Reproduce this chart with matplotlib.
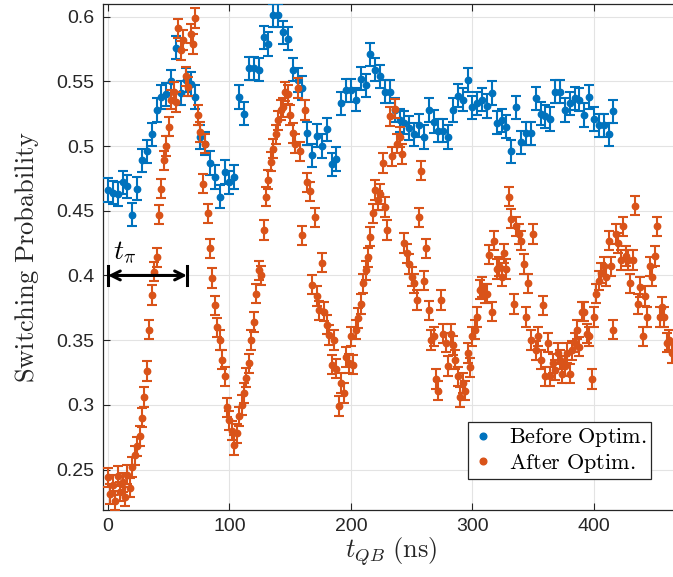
import numpy as np
import matplotlib
matplotlib.use("Agg")
import matplotlib.pyplot as plt
from matplotlib.lines import Line2D
from matplotlib.ticker import FuncFormatter

plt.rcParams["mathtext.fontset"] = "cm"
plt.rcParams["font.family"] = ["Liberation Sans", "DejaVu Sans"]

# Switching probability vs. qubit drive time, before optimisation (4 ns steps)
t_before = np.arange(0, 417, 4)
p_before = [
    0.466, 0.464, 0.463, 0.472, 0.469, 0.447, 0.467, 0.489, 0.496, 0.509,
    0.528, 0.538, 0.540, 0.550, 0.576, 0.541, 0.551, 0.548, 0.538, 0.507,
    0.502, 0.487, 0.476, 0.461, 0.480, 0.472, 0.476, 0.538, 0.525, 0.560,
    0.560, 0.559, 0.584, 0.579, 0.601, 0.601, 0.588, 0.583, 0.559, 0.551,
    0.545, 0.510, 0.493, 0.508, 0.500, 0.513, 0.486, 0.490, 0.533, 0.543,
    0.543, 0.536, 0.552, 0.547, 0.571, 0.559, 0.554, 0.542, 0.542, 0.528,
    0.520, 0.518, 0.514, 0.509, 0.516, 0.507, 0.528, 0.519, 0.512, 0.512,
    0.507, 0.528, 0.539, 0.536, 0.551, 0.530, 0.533, 0.536, 0.531, 0.541,
    0.518, 0.520, 0.515, 0.496, 0.530, 0.503, 0.510, 0.510, 0.537, 0.525,
    0.523, 0.521, 0.542, 0.542, 0.528, 0.533, 0.537, 0.536, 0.524, 0.538,
    0.521, 0.516, 0.516, 0.509, 0.527,
]
err_before = 0.009

# After optimisation (2 ns steps)
t_after = np.arange(0, 465, 2)
p_after = [
    0.244, 0.231, 0.238, 0.226, 0.245, 0.233, 0.240, 0.229, 0.246, 0.236,
    0.252, 0.261, 0.268, 0.276, 0.290, 0.306, 0.326, 0.358, 0.385, 0.403,
    0.414, 0.447, 0.467, 0.489, 0.500, 0.515, 0.536, 0.542, 0.534, 0.591,
    0.574, 0.582, 0.554, 0.546, 0.587, 0.579, 0.599, 0.524, 0.511, 0.471,
    0.502, 0.448, 0.421, 0.398, 0.377, 0.360, 0.350, 0.335, 0.322, 0.298,
    0.288, 0.280, 0.269, 0.278, 0.291, 0.300, 0.309, 0.321, 0.332, 0.350,
    0.364, 0.386, 0.404, 0.400, 0.435, 0.461, 0.474, 0.488, 0.498, 0.509,
    0.520, 0.528, 0.530, 0.542, 0.540, 0.524, 0.510, 0.502, 0.545, 0.496,
    0.431, 0.528, 0.472, 0.465, 0.393, 0.445, 0.384, 0.373, 0.410, 0.372,
    0.362, 0.354, 0.331, 0.350, 0.328, 0.299, 0.317, 0.309, 0.337, 0.332,
    0.353, 0.331, 0.358, 0.367, 0.378, 0.394, 0.404, 0.414, 0.430, 0.448,
    0.466, 0.458, 0.463, 0.487, 0.453, 0.435, 0.523, 0.492, 0.529, 0.502,
    0.507, 0.494, 0.425, 0.417, 0.409, 0.399, 0.394, 0.381, 0.445, 0.481,
    0.396, 0.421, 0.373, 0.350, 0.353, 0.320, 0.311, 0.381, 0.355, 0.348,
    0.330, 0.355, 0.346, 0.335, 0.322, 0.306, 0.317, 0.311, 0.340, 0.329,
    0.353, 0.358, 0.368, 0.389, 0.391, 0.386, 0.386, 0.416, 0.372, 0.427,
    0.405, 0.407, 0.399, 0.417, 0.405, 0.461, 0.444, 0.378, 0.438, 0.432,
    0.427, 0.409, 0.368, 0.394, 0.350, 0.432, 0.342, 0.353, 0.335, 0.377,
    0.322, 0.348, 0.322, 0.332, 0.327, 0.340, 0.335, 0.324, 0.330, 0.340,
    0.324, 0.342, 0.348, 0.358, 0.345, 0.372, 0.372, 0.355, 0.353, 0.320,
    0.368, 0.386, 0.396, 0.402, 0.407, 0.399, 0.427, 0.407, 0.358, 0.432,
    0.425, 0.412, 0.438, 0.415, 0.412, 0.394, 0.412, 0.454, 0.378, 0.391,
    0.353, 0.384, 0.368, 0.407, 0.399, 0.415, 0.438, 0.368, 0.376, 0.368,
    0.348, 0.350, 0.340,
]
err_after = 0.0075

x_ticks = [0, 100, 200, 300, 400]
y_ticks = [0.25, 0.3, 0.35, 0.4, 0.45, 0.5, 0.55, 0.6]
labels = [r"$\mathrm{Before\ Optim.}$", r"$\mathrm{After\ Optim.}$"]
t_pi = 65

blue = "#0072BD"
orange = "#D95319"
dark = "#262626"

fig = plt.figure(figsize=(6.73, 5.77), dpi=100)
ax = fig.add_axes([103 / 673, 67 / 577, 577 / 673, 505.7 / 577])

common = dict(fmt="o", markersize=4.6, elinewidth=1.5, capsize=3.8,
              capthick=1.5, linestyle="none")
ax.errorbar(t_before, p_before, yerr=err_before, color=blue, zorder=3, **common)
ax.errorbar(t_after, p_after, yerr=err_after, color=orange, zorder=4, **common)

ax.set_xlim(-4.1, 470.8)
ax.set_ylim(0.2187, 0.6096)
ax.set_xticks(x_ticks)
ax.set_yticks(y_ticks)
ax.yaxis.set_major_formatter(FuncFormatter(lambda v, _: f"{v:g}"))
ax.grid(True, color="#e3e3e3", linewidth=0.8, zorder=0)
ax.set_axisbelow(True)
ax.tick_params(direction="in", length=5, width=0.8, colors=dark,
               labelsize=14, top=True, right=True, pad=6)
for s in ax.spines.values():
    s.set_color(dark)
    s.set_linewidth(0.9)

ax.set_xlabel(r"$t_{QB}\ \mathrm{(ns)}$", fontsize=19, color=dark, labelpad=0)
ax.set_ylabel(r"$\mathrm{Switching\ Probability}$", fontsize=19, color=dark,
              labelpad=11)

# pi-pulse duration marker
ax.annotate("", xy=(0, 0.4), xytext=(t_pi, 0.4),
            arrowprops=dict(arrowstyle="<->", color="black", lw=2.2,
                            shrinkA=0, shrinkB=0, mutation_scale=16),
            zorder=6)
for xe in (0, t_pi):
    ax.plot([xe, xe], [0.393, 0.407], color="black", lw=2.2, zorder=6)
ax.text(4, 0.413, r"$t_\pi$", fontsize=20, color="black", zorder=6)

handles = [Line2D([], [], marker="o", color=blue, linestyle="none", markersize=4.8),
           Line2D([], [], marker="o", color=orange, linestyle="none", markersize=4.8)]
leg = ax.legend(handles, labels, loc="lower left", bbox_to_anchor=(0.632, 0.061),
                fontsize=16, frameon=True, fancybox=False, framealpha=1,
                edgecolor=dark, handlelength=1.0, handletextpad=0.7,
                borderpad=0.18, labelspacing=0.12, borderaxespad=0)
leg.get_frame().set_linewidth(0.9)
leg.set_zorder(10)

fig.savefig("out.png", dpi=100)
